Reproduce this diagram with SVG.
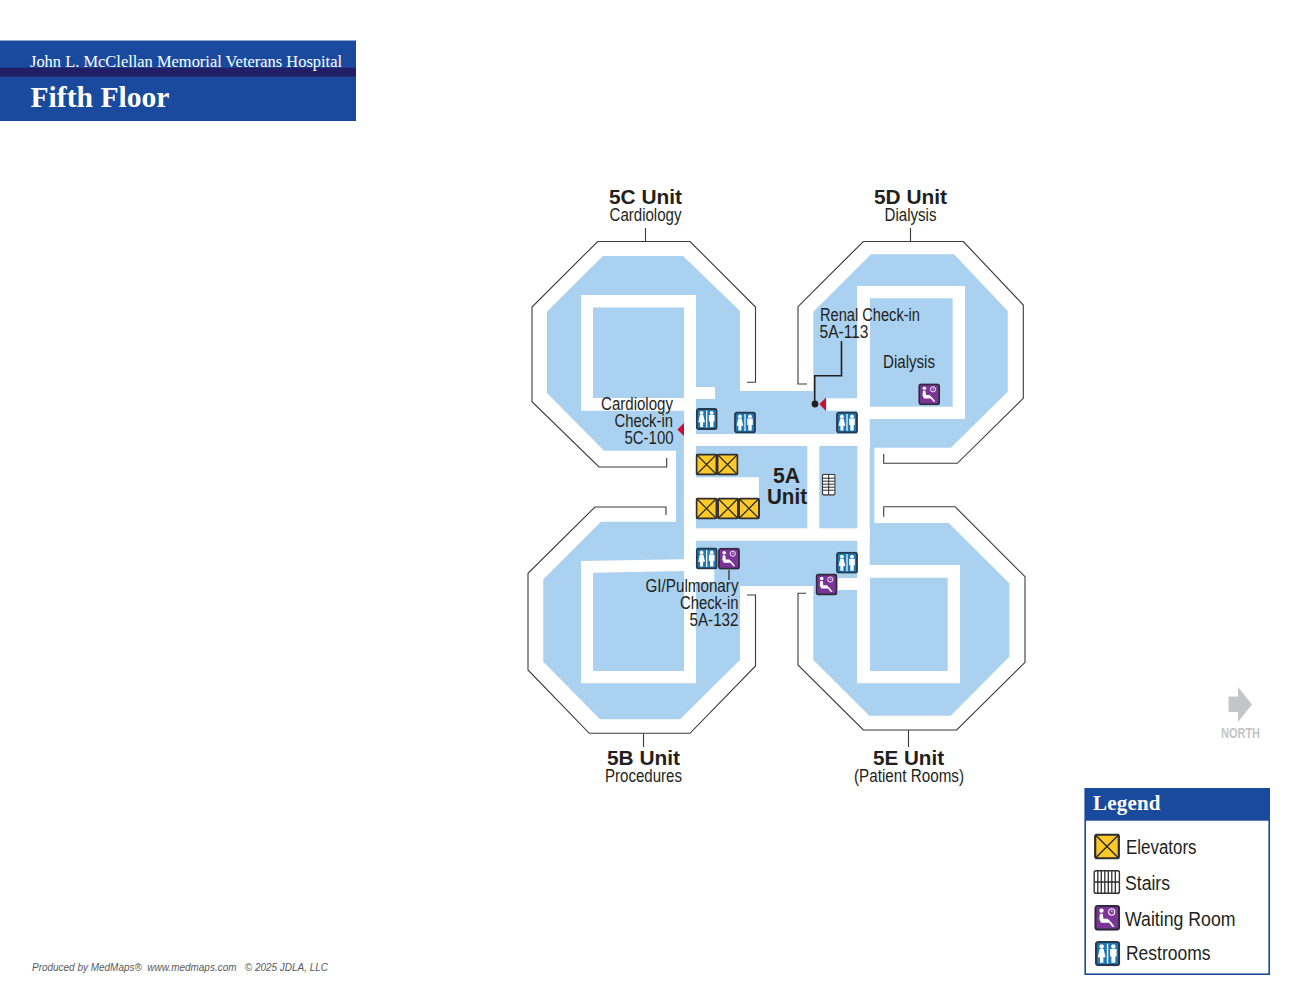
<svg xmlns="http://www.w3.org/2000/svg" width="1299" height="1004" viewBox="0 0 1299 1004">
<style>
.bl{fill:#aad1f0}
.wh{fill:#fff}
.ol{fill:none;stroke:#3a3a3c;stroke-width:1.1}
.n{font-family:"Liberation Sans",Arial,sans-serif;font-size:17.5px;fill:#231f20}
.lg{font-size:19.5px}
.u{font-family:"Liberation Sans",Arial,sans-serif;font-size:21px;font-weight:700;fill:#231f20}
.s{font-family:"Liberation Serif","Times New Roman",serif;fill:#fff}
.m{text-anchor:middle}
</style>
<defs>
<symbol id="rr" viewBox="0 0 22 22">
<rect x="1" y="1" width="20" height="20" rx="2" fill="#1b79b8" stroke="#27384a" stroke-width="1.8"/>
<rect x="10.4" y="2.5" width="1.2" height="17" fill="#fff"/>
<circle cx="5.9" cy="4.9" r="1.9" fill="#fff"/>
<path d="M4.2 7h3.4l1.7 7.2h-1.9v4.8h-3v-4.8H2.6z" fill="#fff"/>
<circle cx="16" cy="4.9" r="1.9" fill="#fff"/>
<path d="M13.2 7h5.6v6.6h-1.1v5.4h-3.4v-5.4h-1.1z" fill="#fff"/>
</symbol>
<symbol id="wr" viewBox="0 0 22 22">
<rect x="1" y="1" width="20" height="20" rx="2" fill="#7b3596" stroke="#2f2a3a" stroke-width="1.8"/>
<circle cx="6.2" cy="5" r="1.8" fill="#fff"/>
<path d="M4.8 7.5h2.4l.6 4.3h3.6l3.2 3.2 2.6 3.5h-1.9l-2.7-3.4H5.8L4.3 12z" fill="#fff"/>
<circle cx="14.8" cy="6" r="2.6" fill="none" stroke="#fff" stroke-width="0.9"/>
<path d="M14.8 4.6V6h1.2" fill="none" stroke="#fff" stroke-width="0.6"/>
</symbol>
<symbol id="el" viewBox="0 0 22 22">
<rect x="1" y="1" width="20" height="20" rx="1.5" fill="#fdc926" stroke="#2e2e30" stroke-width="1.9"/>
<path d="M1.5 1.5L20.5 20.5M20.5 1.5L1.5 20.5" stroke="#2e2e30" stroke-width="1.3"/>
</symbol>
<symbol id="st" viewBox="0 0 14 22">
<rect x="0.7" y="0.7" width="12.6" height="20.6" rx="1.4" fill="#fff" stroke="#3a3a3c" stroke-width="1.3"/>
<path d="M1 4.5H13M1 7.5H13M1 10.5H13M1 13.5H13M1 16.5H13M7 1V21" stroke="#2e2e30" stroke-width="1" fill="none"/>
</symbol>
<symbol id="stl" viewBox="0 0 27 24">
<rect x="0.8" y="0.8" width="25.4" height="22.4" rx="2" fill="#fff" stroke="#333335" stroke-width="1.6"/>
<path d="M4.5 1V23M8 1V23M11.5 1V23M15 1V23M18.5 1V23M22 1V23M1 12H26" stroke="#2e2e30" stroke-width="1.3" fill="none"/>
</symbol>
</defs>

<g id="title-banner">
<rect x="0" y="40.5" width="356" height="80.5" fill="#1a4a9e"/>
<rect x="0" y="67.7" width="356" height="9" fill="#231f66"/>
<text class="s" x="30" y="67" font-size="16" textLength="312" lengthAdjust="spacingAndGlyphs">John L. McClellan Memorial Veterans Hospital</text>
<text class="s" x="30.5" y="107" font-size="30" font-weight="700" textLength="139" lengthAdjust="spacingAndGlyphs">Fifth Floor</text>
</g>

<g id="floor-plan">
<g id="blue-areas">
<polygon class="bl" points="603,256 683,256 740,311 740,400 690,400 690,450.7 604,450.7 547,393 547,311.5"/>
<rect class="bl" x="676" y="450" width="14" height="75"/>
<rect class="bl" x="690" y="391" width="168" height="195"/>
<polygon class="bl" points="871,254.3 954,254.3 1007.7,311 1007.7,391.7 951,447.7 865,447.7 865,391 813.3,391 813.3,311.7"/>
<rect class="bl" x="865" y="447" width="9.3" height="77"/>
<polygon class="bl" points="865,523 948.7,523 1009.3,583.3 1009.3,656.7 950.7,715.7 869.3,715.7 813.3,660 813.3,580 865,580"/>
<polygon class="bl" points="601,521.7 690,521.7 690,586 740,586 740,660 680,719.3 600,719.3 543.3,661.7 543.3,579.3"/>
</g>
<g id="corridors">
<path class="wh" fill-rule="evenodd" d="M581 295H696V410.7H581ZM593 307.5V398H684V307.5Z"/>
<path class="wh" fill-rule="evenodd" d="M857.3 286H965V419H857.3ZM869.7 298.3V406.7H952.7V298.3Z"/>
<path class="wh" fill-rule="evenodd" d="M581 561L696 559V683.3H581ZM593 572.7V671H684V571Z"/>
<path class="wh" fill-rule="evenodd" d="M857.3 565H960V683.3H857.3ZM869.7 577.7V671H947.7V577.7Z"/>
<rect class="wh" x="684" y="295" width="12" height="388"/>
<rect class="wh" x="857.3" y="286" width="12.4" height="397"/>
<rect class="wh" x="696" y="387" width="19" height="12"/>
<rect class="wh" x="696" y="434" width="174" height="12"/>
<rect class="wh" x="807.3" y="446" width="12" height="83"/>
<rect class="wh" x="696" y="528.3" width="174" height="12.4"/>
<rect class="wh" x="696" y="477.3" width="63" height="21"/>
<rect class="wh" x="696" y="569" width="18.3" height="13"/>
<rect class="wh" x="826.7" y="398.3" width="31" height="12.4"/>
<rect class="wh" x="838" y="578" width="20" height="12"/>
</g>
<g id="walls">
<path class="ol" d="M666.7 458V467H599L532 401.7V307L597.7 241.5H690L755.5 307V382.3H747"/>
<path class="ol" d="M807 384H798V306.7L863.3 241.5H963.3L1023.3 305V398.3L957.3 463.3H883.7V454"/>
<path class="ol" d="M666 515V507H595L528 573.3V670L589.3 733.3H690L755.5 666V595H747"/>
<path class="ol" d="M883.7 516.7V506.7H955L1025 576.7V662.3L956.7 730H863.3L798 665V593.3H806"/>
<path class="ol" d="M645.5 228V241.5M910.5 228V241.5M643.5 733.3V747M908.5 730V747"/>
</g>
</g>

<g id="connectors" fill="none">
<path d="M841.5 341V375.7H814.7V404" stroke="#231f20" stroke-width="1.6"/>
<circle cx="815" cy="404" r="3.4" fill="#231f20"/>
<path d="M729 570V580" stroke="#3a3a3c" stroke-width="1.4"/>
<polygon points="819.4,404.3 826,397.5 826,411" fill="#c8102e"/>
<polygon points="677.3,429.5 684,423 684,436" fill="#c8102e"/>
</g>

<g id="icons">
<use href="#rr" x="695.7" y="408" width="22" height="22"/>
<use href="#rr" x="734" y="411.5" width="22" height="22"/>
<use href="#rr" x="836" y="411.5" width="22" height="22"/>
<use href="#rr" x="695.7" y="547.5" width="22" height="22"/>
<use href="#wr" x="718" y="547.7" width="22" height="22"/>
<use href="#rr" x="836" y="551.7" width="22" height="22"/>
<use href="#wr" x="815.5" y="573.5" width="22" height="22"/>
<use href="#wr" x="918.2" y="383.3" width="22" height="22"/>
<use href="#st" x="821.7" y="473.7" width="14" height="22"/>
<use href="#el" x="695.5" y="453.5" width="22" height="22"/>
<use href="#el" x="716.5" y="453.5" width="22" height="22"/>
<use href="#el" x="695.5" y="497.5" width="22" height="22"/>
<use href="#el" x="717" y="497.5" width="22" height="22"/>
<use href="#el" x="738" y="497.5" width="22" height="22"/>
</g>

<g id="labels">
<text class="u m" x="645.5" y="204" textLength="73" lengthAdjust="spacingAndGlyphs">5C Unit</text>
<text class="n m" x="645.5" y="221" textLength="72" lengthAdjust="spacingAndGlyphs">Cardiology</text>
<text class="u m" x="910.5" y="204" textLength="73" lengthAdjust="spacingAndGlyphs">5D Unit</text>
<text class="n m" x="910.5" y="221" textLength="52" lengthAdjust="spacingAndGlyphs">Dialysis</text>
<text class="u m" x="643.5" y="765" textLength="73" lengthAdjust="spacingAndGlyphs">5B Unit</text>
<text class="n m" x="643.5" y="782" textLength="77" lengthAdjust="spacingAndGlyphs">Procedures</text>
<text class="u m" x="908.5" y="765" textLength="71" lengthAdjust="spacingAndGlyphs">5E Unit</text>
<text class="n m" x="909" y="782" textLength="110" lengthAdjust="spacingAndGlyphs">(Patient Rooms)</text>
<text class="u m" x="786.5" y="483" style="font-size:22px" textLength="27" lengthAdjust="spacingAndGlyphs">5A</text>
<text class="u m" x="787" y="504" style="font-size:22px" textLength="40" lengthAdjust="spacingAndGlyphs">Unit</text>
<text class="n" x="820" y="321" textLength="100" lengthAdjust="spacingAndGlyphs">Renal Check-in</text>
<text class="n" x="819.5" y="338" textLength="49" lengthAdjust="spacingAndGlyphs">5A-113</text>
<text class="n" x="883" y="368" textLength="52" lengthAdjust="spacingAndGlyphs">Dialysis</text>
<text class="n" x="601" y="410" textLength="72" lengthAdjust="spacingAndGlyphs">Cardiology</text>
<text class="n" x="614.5" y="427" textLength="58.5" lengthAdjust="spacingAndGlyphs">Check-in</text>
<text class="n" x="624.5" y="444" textLength="49" lengthAdjust="spacingAndGlyphs">5C-100</text>
<text class="n" x="645.5" y="592" textLength="93" lengthAdjust="spacingAndGlyphs">GI/Pulmonary</text>
<text class="n" x="680" y="609" textLength="58.5" lengthAdjust="spacingAndGlyphs">Check-in</text>
<text class="n" x="689.5" y="626" textLength="49" lengthAdjust="spacingAndGlyphs">5A-132</text>
</g>

<g id="north">
<polygon points="1238,687 1252,704.5 1238,722 1238,712 1228.5,712 1228.5,696.5 1238,696.5" fill="#c3c5c7"/>
<text x="1221" y="738" font-family="'Liberation Sans',Arial,sans-serif" font-size="15.5" font-weight="700" fill="#c3c5c7" textLength="39" lengthAdjust="spacingAndGlyphs">NORTH</text>
</g>

<g id="legend">
<rect x="1085.2" y="788.8" width="184" height="185.4" fill="#fff" stroke="#1a4a9e" stroke-width="1.6"/>
<rect x="1085" y="789" width="184.5" height="31.7" fill="#1a4a9e"/>
<text class="s" x="1093" y="810" font-size="21" font-weight="700" textLength="67.5" lengthAdjust="spacing">Legend</text>
<use href="#el" x="1094" y="833.5" width="26" height="26"/>
<use href="#stl" x="1093.3" y="870" width="27" height="24"/>
<use href="#wr" x="1094.2" y="904.8" width="26" height="26"/>
<use href="#rr" x="1094.8" y="940.8" width="25.5" height="25.5"/>
<text class="n lg" x="1126" y="854" textLength="70.5" lengthAdjust="spacingAndGlyphs">Elevators</text>
<text class="n lg" x="1125" y="890" textLength="45" lengthAdjust="spacingAndGlyphs">Stairs</text>
<text class="n lg" x="1125" y="926" textLength="110.5" lengthAdjust="spacingAndGlyphs">Waiting Room</text>
<text class="n lg" x="1126" y="960" textLength="84.5" lengthAdjust="spacingAndGlyphs">Restrooms</text>
</g>

<text id="credit" x="32" y="971" font-family="'Liberation Sans',Arial,sans-serif" font-size="10" font-style="italic" fill="#58595b" xml:space="preserve" textLength="296" lengthAdjust="spacingAndGlyphs">Produced by MedMaps®  www.medmaps.com   © 2025 JDLA, LLC</text>
</svg>
